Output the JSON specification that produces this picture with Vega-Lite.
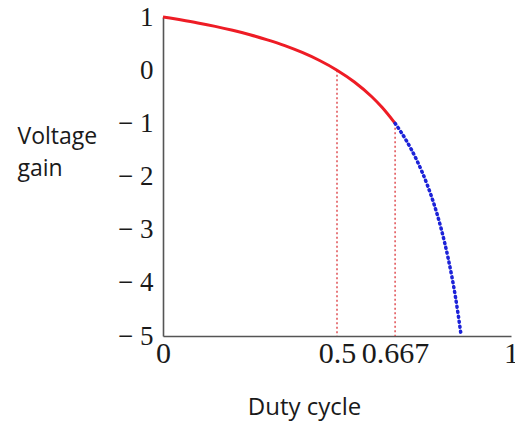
{
  "$schema": "https://vega.github.io/schema/vega-lite/v6.json",
  "width": 348,
  "height": 319,
  "autosize": {"type": "none"},
  "padding": {"left": 163, "top": 17, "right": 4, "bottom": 87},
  "background": "white",
  "config": {"view": {"stroke": null}},
  "datasets": {
    "red": [
      {"d": 0, "g": 1}, {"d": 0.02, "g": 0.98}, {"d": 0.05, "g": 0.947}, {"d": 0.1, "g": 0.889},
      {"d": 0.15, "g": 0.824}, {"d": 0.2, "g": 0.75}, {"d": 0.25, "g": 0.667},
      {"d": 0.3, "g": 0.571}, {"d": 0.35, "g": 0.462}, {"d": 0.4, "g": 0.333},
      {"d": 0.45, "g": 0.182}, {"d": 0.5, "g": 0}, {"d": 0.55, "g": -0.222},
      {"d": 0.6, "g": -0.5}, {"d": 0.63, "g": -0.703}, {"d": 0.667, "g": -1}
    ],
    "blue": [
      {"d": 0.667, "g": -1}, {"d": 0.7, "g": -1.333}, {"d": 0.73, "g": -1.704},
      {"d": 0.76, "g": -2.167}, {"d": 0.78, "g": -2.545}, {"d": 0.8, "g": -3},
      {"d": 0.82, "g": -3.556}, {"d": 0.84, "g": -4.25}, {"d": 0.857, "g": -5}
    ],
    "guides": [
      {"d": 0.5, "top": 0, "bottom": -5},
      {"d": 0.667, "top": -1, "bottom": -5}
    ]
  },
  "layer": [
    {
      "data": {"name": "guides"},
      "mark": {"type": "rule", "color": "#e25a5e", "strokeWidth": 1.6, "strokeDash": [2, 2.5]},
      "encoding": {
        "x": {"field": "d", "type": "quantitative", "scale": {"domain": [0, 1]},
          "axis": {
            "values": [0, 0.5, 0.667, 1],
            "labelExpr": "datum.value == 0.667 ? '0.667' : datum.value",
            "labelFont": "Liberation Serif", "labelFontSize": 30, "labelColor": "#1a1a1a",
            "labelPadding": 2, "ticks": false, "grid": false,
            "domainColor": "#555", "domainWidth": 1.6,
            "labelOverlap": false, "labelFlush": false,
            "title": "Duty cycle", "titleFont": "Open Sans", "titleFontSize": 24,
            "titleFontWeight": "normal", "titleColor": "#1a1a1a",
            "titleX": 141, "titleY": 71, "titleBaseline": "middle", "titleAlign": "center"
          }},
        "y": {"field": "top", "type": "quantitative", "scale": {"domain": [-5, 1], "nice": false},
          "axis": {
            "values": [1, 0, -1, -2, -3, -4, -5],
            "labelExpr": "datum.value < 0 ? '\u2212 ' + abs(datum.value) : datum.value",
            "labelFont": "Liberation Serif", "labelFontSize": 27, "labelColor": "#1a1a1a",
            "labelPadding": 10, "ticks": false, "grid": false,
            "domainColor": "#555", "domainWidth": 1.6,
            "title": ["Voltage", "gain"], "titleFont": "Open Sans", "titleFontSize": 23,
            "titleFontWeight": "normal", "titleColor": "#1a1a1a", "titleAngle": 0,
            "titleAlign": "left", "titleBaseline": "middle", "titleLineHeight": 32,
            "titleX": -146, "titleY": 119
          }},
        "y2": {"field": "bottom"}
      }
    },
    {
      "data": {"name": "red"},
      "mark": {"type": "line", "color": "#ee1c25", "strokeWidth": 3, "interpolate": "monotone"},
      "encoding": {
        "x": {"field": "d", "type": "quantitative"},
        "y": {"field": "g", "type": "quantitative"}
      }
    },
    {
      "data": {"name": "blue"},
      "mark": {"type": "line", "color": "#1c22d8", "strokeWidth": 3.5, "strokeDash": [1, 4], "strokeCap": "round", "interpolate": "monotone"},
      "encoding": {
        "x": {"field": "d", "type": "quantitative"},
        "y": {"field": "g", "type": "quantitative"}
      }
    }
  ]
}
